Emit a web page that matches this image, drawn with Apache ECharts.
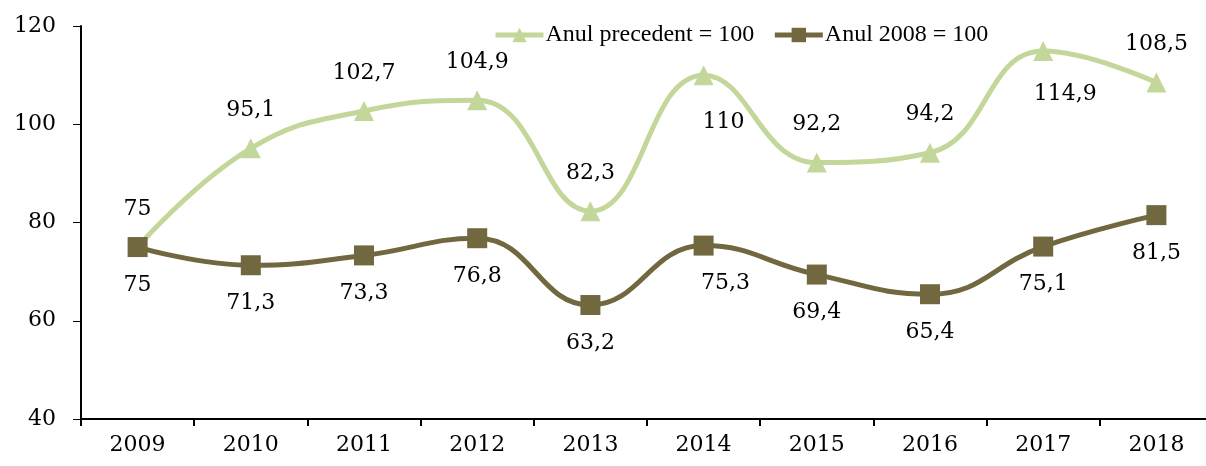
<!DOCTYPE html>
<html lang="ro">
<head>
    <meta charset="UTF-8">
    <script src="https://cdn.jsdelivr.net/npm/echarts@6/dist/echarts.min.js"></script>
    <title>indici</title>
    <style>
        html, body { margin: 0; padding: 0; background: #fff; overflow: hidden; }
        #chart { width: 1213px; height: 466px; }
    </style>
</head>
<body>
    <div id="chart"></div>
    <script>
        let years = ['2009', '2010', '2011', '2012', '2013', '2014', '2015', '2016', '2017', '2018'];
        let precedent = [75, 95.1, 102.7, 104.9, 82.3, 110, 92.2, 94.2, 114.9, 108.5];
        let base2008 = [75, 71.3, 73.3, 76.8, 63.2, 75.3, 69.4, 65.4, 75.1, 81.5];
        let yTicks = [40, 60, 80, 100, 120];

        let font = 'DejaVu Serif';
        let legendFont = 'Liberation Serif';
        let lightColor = '#c4d79b';
        let darkColor = '#716840';

        function comma(v) {
            return String(v).replace('.', ',');
        }

        // labels below the line (and nudged right) for two points of the light series
        let lightData = precedent.map(function (v, i) {
            let d = { value: v };
            if (i == 5) d.label = { position: 'bottom', distance: 26, offset: [20, 0] };
            if (i == 8) d.label = { position: 'bottom', distance: 22, offset: [22, 0] };
            return d;
        });
        let darkData = base2008.map(function (v, i) {
            let d = { value: v };
            if (i == 5) d.label = { offset: [22, 0] };
            return d;
        });

        let option = {
            backgroundColor: '#fff',
            animation: false,
            textStyle: { fontFamily: font },
            legend: {
                top: 18,
                left: 488,
                itemWidth: 48,
                itemHeight: 18,
                itemGap: 18,
                lineStyle: { width: 5 },
                textStyle: { fontFamily: legendFont, fontSize: 24, color: '#000', padding: [0, 0, 0, -3] },
                data: ['Anul precedent = 100', 'Anul 2008 = 100']
            },
            grid: { left: 81, right: 0, top: 26, bottom: 47, containLabel: false },
            xAxis: {
                type: 'category',
                data: years,
                boundaryGap: true,
                axisLine: { lineStyle: { color: '#000', width: 2 } },
                axisTick: { show: true, length: 7, lineStyle: { color: '#000', width: 2 } },
                axisLabel: { color: '#000', fontFamily: font, fontSize: 22, margin: 15 },
                splitLine: { show: false }
            },
            yAxis: {
                type: 'value',
                min: yTicks[0],
                max: yTicks[yTicks.length - 1],
                interval: 20,
                axisLine: { show: true, lineStyle: { color: '#000', width: 2 } },
                axisTick: { show: true, length: 8, lineStyle: { color: '#000', width: 1 } },
                axisLabel: { color: '#000', fontFamily: font, fontSize: 22, margin: 25 },
                splitLine: { show: false }
            },
            series: [
                {
                    name: 'Anul precedent = 100',
                    type: 'line',
                    data: lightData,
                    smooth: 0.45,
                    symbol: 'triangle',
                    symbolSize: 20,
                    lineStyle: { color: lightColor, width: 5 },
                    itemStyle: { color: lightColor },
                    label: {
                        show: true,
                        position: 'top',
                        distance: 17,
                        color: '#000',
                        fontFamily: font,
                        fontSize: 22,
                        formatter: function (p) { return comma(p.value); }
                    }
                },
                {
                    name: 'Anul 2008 = 100',
                    type: 'line',
                    data: darkData,
                    smooth: 0.45,
                    symbol: 'rect',
                    symbolSize: 20,
                    lineStyle: { color: darkColor, width: 5 },
                    itemStyle: { color: darkColor },
                    label: {
                        show: true,
                        position: 'bottom',
                        distance: 17,
                        color: '#000',
                        fontFamily: font,
                        fontSize: 22,
                        formatter: function (p) { return comma(p.value); }
                    }
                }
            ]
        };
        var myChart = echarts.init(document.getElementById('chart'));
        myChart.setOption(option);
    </script>
</body>
</html>
